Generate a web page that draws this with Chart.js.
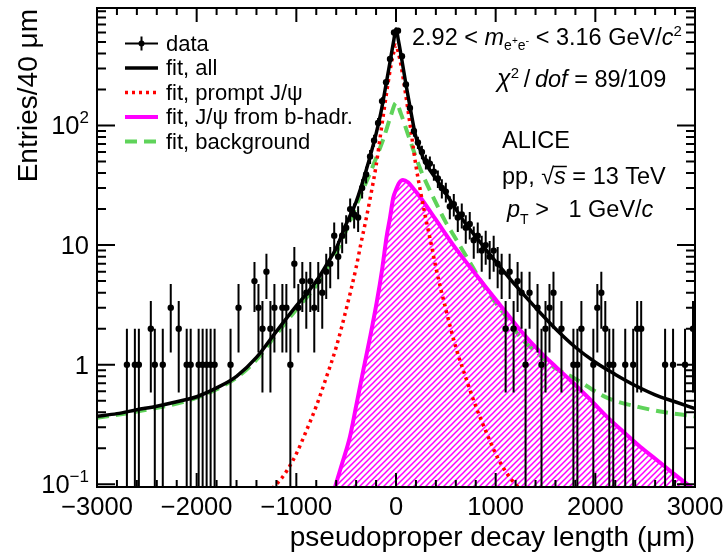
<!DOCTYPE html>
<html>
<head>
<meta charset="utf-8">
<script src="https://cdn.jsdelivr.net/npm/chart.js@4.4.1/dist/chart.umd.min.js"></script>
<style>
  html, body { margin: 0; padding: 0; background: #fff; }
  #wrap { width: 725px; height: 552px; position: relative; }
</style>
</head>
<body>
<div id="wrap"><canvas id="myChart" width="725" height="552"></canvas></div>
<script>
// Pseudoproper decay length distribution, entries per 40 um bin (empty bins left out)
const binCentres = [
  -2700, -2620, -2580, -2460, -2420, -2340, -2260, -2180, -2100, -2060,
  -1980, -1940, -1900, -1860, -1820, -1660, -1580, -1420, -1380, -1340,
  -1300, -1260, -1220, -1140, -1100, -1060, -1020, -980, -940, -900,
  -860, -820, -780, -740, -700, -660, -620, -580, -540, -500,
  -460, -420, -380, -340, -300, -260, -220, -180, -140, -100,
  -60, -20, 20, 60, 100, 140, 180, 220, 260, 300,
  340, 380, 420, 460, 500, 540, 580, 620, 660, 700,
  740, 780, 820, 860, 900, 940, 980, 1020, 1060, 1100,
  1140, 1180, 1220, 1260, 1300, 1340, 1420, 1460, 1500, 1540,
  1580, 1660, 1780, 1820, 1860, 1980, 2020, 2060, 2100, 2140,
  2180, 2300, 2380, 2420, 2460, 2700, 2780, 2900, 2980
];
const entries = [
  1, 1, 1, 2, 1, 1, 3, 2, 1, 1,
  1, 1, 1, 1, 1, 1, 3, 5, 3, 2,
  6, 2, 3, 3, 3, 1, 7, 3, 5, 4,
  5, 3, 5, 4, 6, 7, 12, 8, 12, 14,
  20, 18, 17, 30, 39, 55, 75, 105, 160, 230,
  360, 600, 620, 380, 220, 140, 90, 72, 60, 50,
  48, 41, 36, 30, 28, 21, 22, 17, 18, 14,
  15, 11, 12, 9, 10, 8, 9, 7, 6, 2,
  6, 2, 5, 4, 1, 4, 3, 1, 2, 3,
  4, 2, 1, 1, 2, 1, 3, 4, 2, 1,
  1, 1, 1, 2, 2, 1, 1, 1, 2
];

// fit, all
const allX = [-3000, -2800, -2600, -2400, -2200, -2000, -1800, -1600, -1400, -1200,
  -1000, -900, -800, -700, -600, -500, -400, -300, -200, -150,
  -100, -50, -25, 0, 25, 50, 100, 140, 200, 250,
  300, 400, 500, 600, 700, 800, 900, 1000, 1200, 1400,
  1600, 1800, 2000, 2200, 2400, 2600, 2800, 3000];
const allY = [0.37, 0.39, 0.42, 0.45, 0.49, 0.54, 0.64, 0.80, 1.15, 1.9,
  3.1, 3.9, 5.0, 6.8, 9.4, 15, 23, 42, 85, 130,
  220, 380, 500, 640, 510, 390, 220, 144, 80, 60,
  48, 36, 27, 20, 15, 11.8, 9.2, 7.3, 4.6, 3.0,
  2.0, 1.4, 1.05, 0.83, 0.67, 0.56, 0.49, 0.43];

// fit, prompt J/psi
const promptX = [-1300, -1200, -1100, -1000, -900, -800, -700, -600, -500, -400,
  -350, -300, -250, -200, -150, -100, -50, -25, 0, 25,
  50, 100, 150, 200, 250, 300, 350, 400, 500, 600,
  700, 800, 900, 1000, 1100, 1200, 1300];
const promptY = [0.085, 0.1, 0.128, 0.18, 0.28, 0.45, 0.78, 1.4, 2.9, 6.5,
  10.5, 16.5, 27, 46, 90, 175, 320, 400, 470, 400,
  320, 175, 90, 46, 27, 16.5, 10.5, 6.5, 2.9, 1.4,
  0.78, 0.45, 0.28, 0.18, 0.128, 0.1, 0.085];

// fit, J/psi from b-hadrons
const bhadX = [-640, -612, -540, -462, -400, -328, -260, -194, -140, -94,
  -60, -27, 0, 30, 70, 120, 170, 240, 400, 575,
  740, 910, 1080, 1245, 1445, 1610, 1780, 1950, 2115, 2280,
  2450, 2620, 2785, 2960, 3000];
const bhadY = [0.08, 0.095, 0.15, 0.25, 0.45, 0.9, 1.7, 3.3, 6.2, 11.8,
  17, 25, 29, 33, 35, 33.5, 30, 25.4, 16.3, 10,
  6.6, 4.35, 2.9, 1.95, 1.28, 0.95, 0.70, 0.51, 0.368, 0.275,
  0.206, 0.159, 0.123, 0.095, 0.09];

// fit, background
const bkgX = [-3000, -2500, -2000, -1600, -1400, -1200, -1000, -800, -700, -600,
  -460, -375, -250, -125, -50, 0, 50, 125, 250, 375,
  500, 575, 700, 910, 1080, 1245, 1445, 1580, 1780, 2115,
  2450, 2700, 2950, 3000];
const bkgY = [0.36, 0.42, 0.53, 0.78, 1.1, 1.8, 2.9, 4.6, 6.3, 8.6,
  16, 24, 42, 78, 122, 155, 125, 82, 42, 25,
  15.5, 12.2, 8.2, 4.2, 2.7, 1.71, 1.2, 0.96, 0.78, 0.53,
  0.44, 0.4, 0.375, 0.37];

// axis ticks and labels
const xTicks = [-3000, -2000, -1000, 0, 1000, 2000, 3000];
const xTickLabels = ['\u22123000', '\u22122000', '\u22121000', '0', '1000', '2000', '3000'];
const yTicks = [0.1, 1, 10, 100];
const yTickLabels = [['10', '\u22121'], ['1', ''], ['10', ''], ['10', '2']];

const FONT = '"Liberation Sans", Arial, Helvetica, sans-serif';
const GREEN = '#5fd35a';
const MAGENTA = '#ff00ff';
const TXT = 23.5;

function pairs(xs, ys) {
  return xs.map((x, i) => ({ x: x, y: ys[i] }));
}

function hatch(color) {
  const s = 6;
  const c = document.createElement('canvas');
  c.width = s; c.height = s;
  const g = c.getContext('2d');
  g.strokeStyle = color;
  g.lineWidth = 1.5;
  g.beginPath();
  g.moveTo(-1, s + 1); g.lineTo(s + 1, -1);
  g.moveTo(-s / 2 - 1, s / 2 + 1); g.lineTo(s / 2 + 1, -s / 2 - 1);
  g.moveTo(s / 2 - 1, s * 1.5 + 1); g.lineTo(s * 1.5 + 1, s / 2 - 1);
  g.stroke();
  return g.createPattern(c, 'repeat');
}

// draw a row of text pieces: [text, size, italic, dy]
function runs(ctx, x, y, parts) {
  let cx = x;
  parts.forEach(p => {
    ctx.font = (p[2] ? 'italic ' : '') + p[1] + 'px ' + FONT;
    ctx.fillText(p[0], cx, y + (p[3] || 0));
    cx += ctx.measureText(p[0]).width;
  });
  return cx;
}
function runsWidth(ctx, parts) {
  let w = 0;
  parts.forEach(p => {
    ctx.font = (p[2] ? 'italic ' : '') + p[1] + 'px ' + FONT;
    w += ctx.measureText(p[0]).width;
  });
  return w;
}

// vertical error bars (Poisson) and bin-width bars for the data
const errorBars = {
  id: 'errorBars',
  afterDatasetsDraw(chart) {
    const { ctx, chartArea: a, scales: { x, y } } = chart;
    ctx.save();
    ctx.beginPath();
    ctx.rect(a.left, a.top, a.right - a.left, a.bottom - a.top);
    ctx.clip();
    ctx.strokeStyle = '#000';
    ctx.lineWidth = 2;
    ctx.beginPath();
    binCentres.forEach((b, i) => {
      const n = entries[i];
      const e = Math.sqrt(n);
      const px = x.getPixelForValue(b);
      const lo = n - e > 0 ? y.getPixelForValue(n - e) : a.bottom + 4;
      const hi = y.getPixelForValue(n + e);
      const py = y.getPixelForValue(n);
      ctx.moveTo(px, lo); ctx.lineTo(px, hi);
      ctx.moveTo(x.getPixelForValue(b - 20), py);
      ctx.lineTo(x.getPixelForValue(b + 20), py);
    });
    ctx.stroke();
    ctx.restore();
  }
};

// frame, inward ticks, labels, legend and text
const frame = {
  id: 'frame',
  afterDraw(chart) {
    const { ctx, chartArea: a, scales: { x, y } } = chart;
    ctx.save();
    ctx.strokeStyle = '#000';
    ctx.fillStyle = '#000';
    ctx.lineWidth = 2;
    ctx.strokeRect(a.left, a.top, a.right - a.left, a.bottom - a.top);

    ctx.beginPath();
    for (let v = -3000; v <= 3000; v += 200) {
      const px = x.getPixelForValue(v);
      const len = v % 1000 === 0 ? 14 : 7;
      ctx.moveTo(px, a.bottom); ctx.lineTo(px, a.bottom - len);
      ctx.moveTo(px, a.top); ctx.lineTo(px, a.top + len);
    }
    for (let d = 0.1; d < 1000; d *= 10) {
      for (let k = 1; k <= 9; k++) {
        const v = d * k;
        if (v < y.min || v > y.max) continue;
        const py = y.getPixelForValue(v);
        const len = k === 1 ? 18 : 9;
        ctx.moveTo(a.left, py); ctx.lineTo(a.left + len, py);
        ctx.moveTo(a.right, py); ctx.lineTo(a.right - len, py);
      }
    }
    ctx.stroke();

    // x tick labels
    ctx.font = '25.5px ' + FONT;
    ctx.textAlign = 'center';
    ctx.textBaseline = 'alphabetic';
    xTicks.forEach((v, i) => {
      ctx.fillText(xTickLabels[i], x.getPixelForValue(v), 515);
    });
    // y tick labels
    ctx.textAlign = 'left';
    yTicks.forEach((v, i) => {
      const py = y.getPixelForValue(v) + 9;
      const parts = [[yTickLabels[i][0], 25.5, false, 0]];
      if (yTickLabels[i][1]) parts.push([yTickLabels[i][1], 17, false, -11]);
      const w = runsWidth(ctx, parts);
      runs(ctx, 89 - w, py, parts);
    });

    // axis titles
    ctx.font = '28px ' + FONT;
    ctx.textAlign = 'right';
    ctx.fillText('pseudoproper decay length (\u03bcm)', a.right, 546);
    ctx.save();
    ctx.translate(37, a.top + 1);
    ctx.rotate(-Math.PI / 2);
    ctx.fillText('Entries/40 \u03bcm', 0, 0);
    ctx.restore();

    // legend
    ctx.textAlign = 'left';
    ctx.textBaseline = 'middle';
    ctx.font = '22px ' + FONT;
    const rows = [43.5, 68, 92.5, 117, 141.5];
    const ds = chart.data.datasets;
    ds.forEach((d, i) => {
      const yy = rows[i];
      ctx.save();
      if (i === 0) {
        ctx.lineWidth = 2;
        ctx.beginPath();
        ctx.moveTo(125, yy); ctx.lineTo(158, yy);
        ctx.moveTo(141.5, yy - 7); ctx.lineTo(141.5, yy + 7);
        ctx.stroke();
        ctx.beginPath(); ctx.arc(141.5, yy, 3, 0, Math.PI * 2); ctx.fill();
      } else {
        ctx.strokeStyle = d.borderColor;
        ctx.lineWidth = d.borderWidth;
        ctx.setLineDash(d.borderDash || []);
        ctx.beginPath();
        ctx.moveTo(125, yy); ctx.lineTo(158, yy);
        ctx.stroke();
      }
      ctx.restore();
      ctx.fillText(d.label, 166, yy + 1);
    });

    // annotations
    ctx.textBaseline = 'alphabetic';
    runs(ctx, 412, 45, [
      ['2.92 < ', TXT, false], ['m', TXT, true],
      ['e', 14, false, 5], ['+', 10, false, -1], ['e', 14, false, 5], ['-', 11, false, -1],
      [' < 3.16 GeV/', TXT, false], ['c', TXT, true], ['2', 15, false, -9]
    ]);
    runs(ctx, 497, 87, [
      ['\u03c7', 25, true], ['2', 15, false, -9], ['\u2009/\u2009', TXT, false],
      ['dof', TXT, true], [' = 89/109', TXT, false]
    ]);
    runs(ctx, 502, 148, [['ALICE', TXT, false]]);
    let cx = runs(ctx, 502, 184, [['pp, ', TXT, false], ['\u221a', TXT, false]]);
    ctx.font = 'italic ' + TXT + 'px ' + FONT;
    const sw = ctx.measureText('s').width;
    ctx.fillText('s', cx, 184);
    ctx.beginPath();
    ctx.lineWidth = 1.5;
    ctx.moveTo(cx - 1, 166.5); ctx.lineTo(cx + sw + 1, 166.5);
    ctx.stroke();
    runs(ctx, cx + sw, 184, [[' = 13 TeV', TXT, false]]);
    runs(ctx, 507, 217, [
      ['p', TXT, true], ['T', 14, false, 7], [' >   1 GeV/', TXT, false], ['c', TXT, true]
    ]);
    ctx.restore();
  }
};

const ctx = document.getElementById('myChart');
const myChart = new Chart(ctx, {
  type: 'scatter',
  data: {
    datasets: [
      {
        label: 'data',
        data: pairs(binCentres, entries),
        showLine: false,
        pointRadius: 3.2,
        pointBorderWidth: 0,
        pointBackgroundColor: '#000',
        borderColor: '#000'
      },
      {
        label: 'fit, all',
        data: pairs(allX, allY),
        showLine: true,
        borderColor: '#000',
        borderWidth: 3.5,
        pointRadius: 0,
        cubicInterpolationMode: 'monotone'
      },
      {
        label: 'fit, prompt J/\u03c8',
        data: pairs(promptX, promptY),
        showLine: true,
        borderColor: '#ff0000',
        borderWidth: 3.5,
        borderDash: [3, 4],
        pointRadius: 0,
        cubicInterpolationMode: 'monotone'
      },
      {
        label: 'fit, J/\u03c8 from b-hadr.',
        data: pairs(bhadX, bhadY),
        showLine: true,
        borderColor: MAGENTA,
        borderWidth: 4,
        backgroundColor: hatch(MAGENTA),
        fill: 'start',
        pointRadius: 0,
        cubicInterpolationMode: 'monotone'
      },
      {
        label: 'fit, background',
        data: pairs(bkgX, bkgY),
        showLine: true,
        borderColor: GREEN,
        borderWidth: 4,
        borderDash: [12, 7],
        pointRadius: 0,
        cubicInterpolationMode: 'monotone'
      }
    ]
  },
  options: {
    responsive: false,
    animation: false,
    layout: { padding: { left: 97, right: 30, top: 8, bottom: 65 } },
    scales: {
      x: { type: 'linear', min: -3000, max: 3000, display: false },
      y: { type: 'logarithmic', min: 0.095, max: 960, display: false }
    },
    plugins: {
      legend: { display: false },
      tooltip: { enabled: false }
    }
  },
  plugins: [errorBars, frame]
});
</script>
</body>
</html>
